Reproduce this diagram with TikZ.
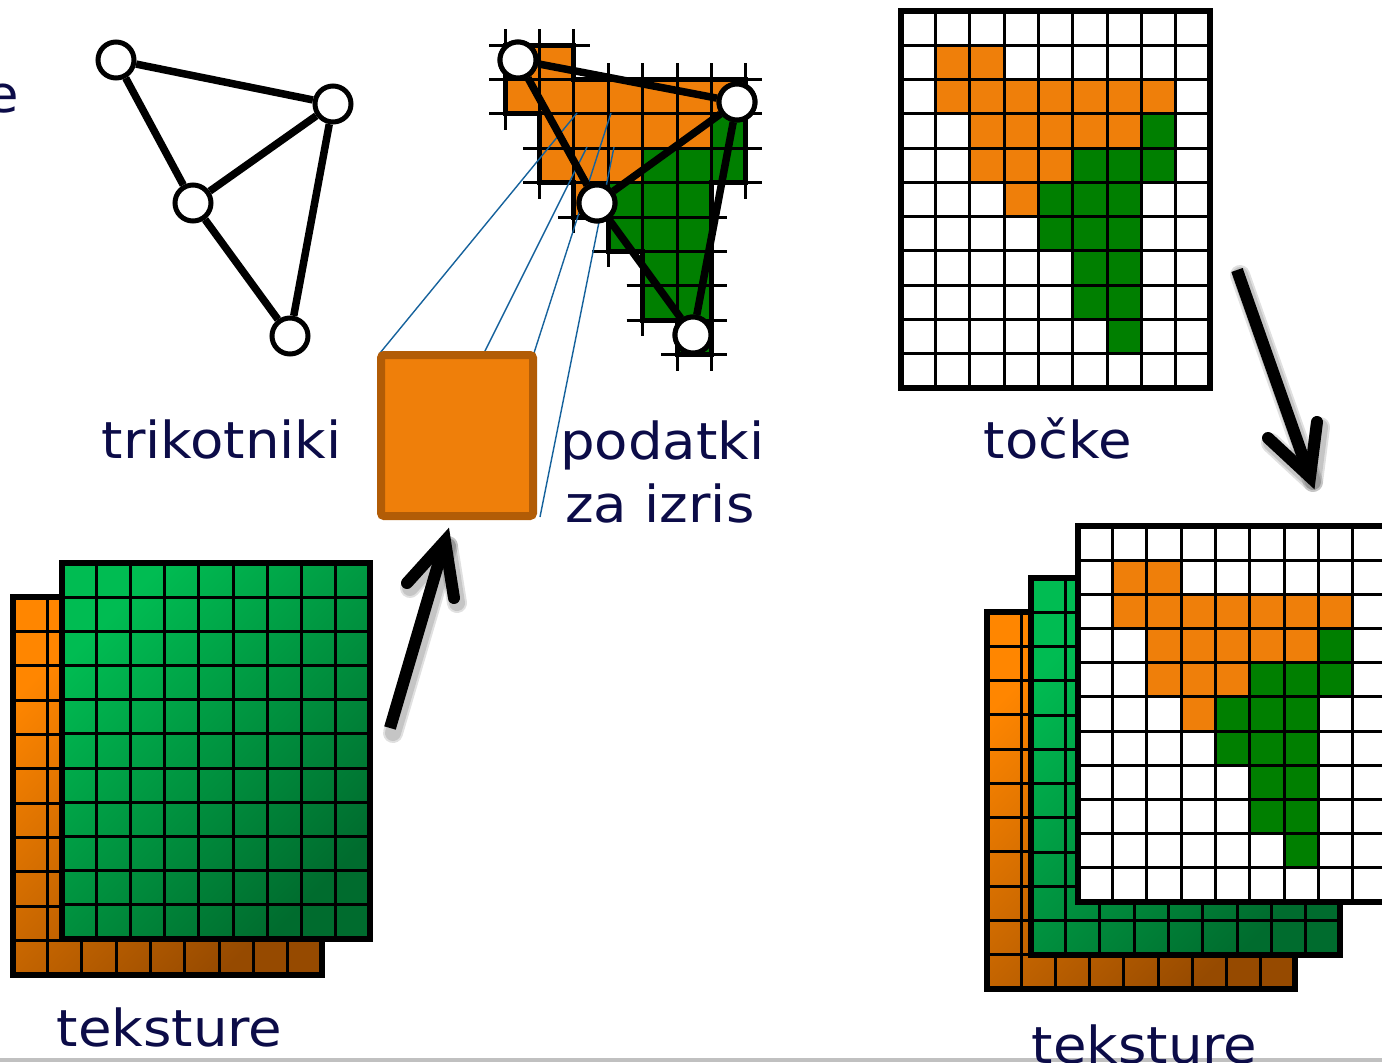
\documentclass[tikz,border=0pt]{standalone}
\usepackage{fontspec}
\newfontfamily\lblfont[FakeStretch=1.07]{DejaVu Sans}

\definecolor{ink}{RGB}{12,12,72}
\definecolor{pxorange}{RGB}{239,127,10}
\definecolor{pxgreen}{RGB}{0,127,0}
\definecolor{texgreenhi}{RGB}{0,188,82}
\definecolor{texgreenlo}{RGB}{0,108,46}
\definecolor{texorangehi}{RGB}{255,134,0}
\definecolor{texorangelo}{RGB}{150,74,0}
\definecolor{fragedge}{RGB}{178,92,6}
\definecolor{raycol}{RGB}{22,98,156}
\definecolor{rulecol}{RGB}{192,192,192}

% covered pixels of the two triangles (column/row)
\def\orangecells{1/1,2/1,1/2,2/2,3/2,4/2,5/2,6/2,7/2,2/3,3/3,4/3,5/3,6/3,2/4,3/4,4/4,3/5}
\def\greencells{7/3,5/4,6/4,7/4,4/5,5/5,6/5,4/6,5/6,6/6,5/7,6/7,5/8,6/8,6/9}
\edef\allcells{\orangecells,\greencells}

% fill the covered pixels: origin x, origin y, cell width, cell height
\newcommand\cellfill[4]{%
  \foreach \cc/\rr in \orangecells {\fill[pxorange] ({#1+\cc*#3},{#2+\rr*#4}) rectangle ++(#3,#4);}%
  \foreach \cc/\rr in \greencells {\fill[pxgreen] ({#1+\cc*#3},{#2+\rr*#4}) rectangle ++(#3,#4);}%
}
% 9 x 11 pixel sheet: grid lines and frame
\newcommand\gridsheet[4]{%
  \foreach \i in {1,...,8} {\draw[cellline] ({#1+\i*(#3-#1)/9},#2) -- ({#1+\i*(#3-#1)/9},#4);}%
  \foreach \j in {1,...,10} {\draw[cellline] (#1,{#2+\j*(#4-#2)/11}) -- (#3,{#2+\j*(#4-#2)/11});}%
  \draw[sheetframe] (#1,#2) rectangle (#3,#4);%
}

\begin{document}
\begin{tikzpicture}[x=1pt,y=-1pt,
  vtx/.style={circle,draw=black,fill=white,line width=5pt,minimum size=36pt,inner sep=0pt},
  wire/.style={line width=7.5pt,black},
  lbl/.style={font=\lblfont\fontsize{51}{65}\selectfont,text=ink,inner sep=0pt,anchor=base west},
  cellline/.style={line width=3pt,black},
  sheetframe/.style={line width=6pt,black},
  rastline/.style={line width=3pt,black},
  rastedge/.style={line width=5pt,black,line join=miter},
  fragbox/.style={draw=fragedge,fill=pxorange,line width=8pt,rounded corners=3pt,minimum width=152pt,minimum height=161pt,inner sep=0pt},
  ray/.style={raycol,line width=1.4pt},
  bigarrow/.style={line width=12pt,black},
  arrowhalo/.style={line width=#1,black,opacity=0.12},
]
\useasboundingbox (0,0) rectangle (1382,1063);

% slide rule at the bottom
\draw[rulecol,line width=4pt] (0,1060) -- (1382,1060);

% ---------- triangles ----------
\node[lbl] (lbl-e) at (-15,112) {e};
\node[vtx] (a) at (116,60) {};
\node[vtx] (b) at (333,104) {};
\node[vtx] (c) at (193,203) {};
\node[vtx] (d) at (290,336) {};
\draw[wire] (a) -- (b);
\draw[wire] (a) -- (c);
\draw[wire] (c) -- (b);
\draw[wire] (c) -- (d);
\draw[wire] (b) -- (d);
\node[lbl] (lbl-tri) at (101.5,458) {trikotniki};

% ---------- rasterised triangles ----------
\cellfill{470.6}{10.6}{34.4}{34.4}
\foreach \cc/\rr in \allcells {
  \draw[rastline] ({470.6+\cc*34.4-16},{10.6+\rr*34.4}) -- ({470.6+(\cc+1)*34.4+16},{10.6+\rr*34.4});
  \draw[rastline] ({470.6+\cc*34.4-16},{10.6+(\rr+1)*34.4}) -- ({470.6+(\cc+1)*34.4+16},{10.6+(\rr+1)*34.4});
  \draw[rastline] ({470.6+\cc*34.4},{10.6+\rr*34.4-16}) -- ({470.6+\cc*34.4},{10.6+(\rr+1)*34.4+16});
  \draw[rastline] ({470.6+(\cc+1)*34.4},{10.6+\rr*34.4-16}) -- ({470.6+(\cc+1)*34.4},{10.6+(\rr+1)*34.4+16});
}
\draw[rastedge] (505,45) -- (573.8,45) -- (573.8,79.4) -- (745.8,79.4) -- (745.8,182.6)
  -- (711.4,182.6) -- (711.4,354.6) -- (677,354.6) -- (677,320.2) -- (642.6,320.2)
  -- (642.6,251.4) -- (608.2,251.4) -- (608.2,217) -- (573.8,217) -- (573.8,182.6)
  -- (539.4,182.6) -- (539.4,113.8) -- (505,113.8) -- cycle;

% fragment and its source pixels
\coordinate (p1) at (577,113);
\coordinate (p2) at (587,147);
\coordinate (p3) at (611,113);
\coordinate (p4) at (614,147);
\coordinate (f1) at (380,353);
\coordinate (f2) at (484,353);
\coordinate (f3) at (534,353);
\coordinate (f4) at (540,517);
\draw[ray] (f1) -- (p1);
\draw[ray] (f2) -- (p2);
\draw[ray] (f3) -- (p3);
\draw[ray] (f4) -- (p4);
\node[fragbox] (frag) at (457,435.5) {};

\node[vtx] (a2) at (518,60) {};
\node[vtx] (b2) at (737,102) {};
\node[vtx] (c2) at (597,203) {};
\node[vtx] (d2) at (693,335) {};
\draw[wire] (a2) -- (b2);
\draw[wire] (a2) -- (c2);
\draw[wire] (c2) -- (b2);
\draw[wire] (c2) -- (d2);
\draw[wire] (b2) -- (d2);
\node[vtx] at (518,60) {};
\node[vtx] at (737,102) {};
\node[vtx] at (597,203) {};
\node[vtx] at (693,335) {};
\node[lbl] (lbl-frag1) at (560,459) {podatki};
\node[lbl] (lbl-frag2) at (565,522) {za izris};

% ---------- fragment points ----------
\fill[white] (901,11) rectangle (1210,388);
\cellfill{901}{11}{34.333}{34.273}
\gridsheet{901}{11}{1210}{388}
\node[lbl] (lbl-pts) at (983.5,458) {točke};

% ---------- input textures ----------
\shade[top color=texorangehi,bottom color=texorangelo,shading angle=45] (13,597) rectangle (322,975);
\gridsheet{13}{597}{322}{975}
\shade[top color=texgreenhi,bottom color=texgreenlo,shading angle=45] (62,563) rectangle (370,939);
\gridsheet{62}{563}{370}{939}
\node[lbl] (lbl-tex1) at (56.5,1046) {teksture};

% ---------- output textures ----------
\shade[top color=texorangehi,bottom color=texorangelo,shading angle=45] (987,612) rectangle (1295,989);
\gridsheet{987}{612}{1295}{989}
\shade[top color=texgreenhi,bottom color=texgreenlo,shading angle=45] (1031,578) rectangle (1340,955);
\gridsheet{1031}{578}{1340}{955}
\fill[white] (1078,526) rectangle (1387,902);
\cellfill{1078}{526}{34.333}{34.182}
\gridsheet{1078}{526}{1387}{902}
\node[lbl] (lbl-tex2) at (1031.5,1063) {teksture};

% ---------- arrows ----------
\coordinate (ua0) at (390,728);
\coordinate (ua1) at (445,541);
\coordinate (ua2) at (407,583);
\coordinate (ua3) at (454,598);
\coordinate (da0) at (1237,270);
\coordinate (da1) at (1310,477);
\coordinate (da2) at (1268,438);
\coordinate (da3) at (1317,422);
\begin{scope}[transform canvas={shift={(3,5)}}]
  \foreach \w in {20pt,16pt} {
    \draw[arrowhalo=\w,line cap=round] (ua0) -- (ua1);
    \draw[arrowhalo=\w,line cap=round,line join=round] (ua2) -- (ua1) -- (ua3);
    \draw[arrowhalo=\w,line cap=round] (da0) -- (da1);
    \draw[arrowhalo=\w,line cap=round,line join=round] (da2) -- (da1) -- (da3);
  }
\end{scope}
\draw[bigarrow] (ua0) -- (ua1);
\draw[bigarrow,line cap=round,line join=miter] (ua2) -- (ua1) -- (ua3);
\draw[bigarrow] (da0) -- (da1);
\draw[bigarrow,line cap=round,line join=miter] (da2) -- (da1) -- (da3);
\end{tikzpicture}
\end{document}
